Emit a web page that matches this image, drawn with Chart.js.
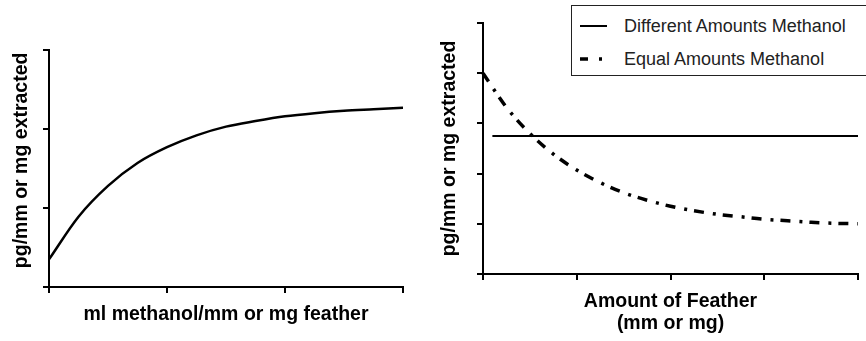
<!DOCTYPE html>
<html>
<head>
<meta charset="utf-8">
<script src="https://cdn.jsdelivr.net/npm/chart.js@4.4.1/dist/chart.umd.min.js"></script>
<style>
  html, body { margin: 0; padding: 0; background: #fff; }
  body { width: 866px; height: 341px; position: relative; overflow: hidden; font-family: "Liberation Sans", Arial, sans-serif; }
  #left-wrap { position: absolute; left: 0; top: 0; width: 430px; height: 341px; }
  #right-wrap { position: absolute; left: 430px; top: 0; width: 436px; height: 341px; }
  #legend {
    position: absolute; left: 571px; top: 5px; width: 310px; height: 69px;
    border: 1px solid #222; background: #fff; box-sizing: content-box;
  }
  .legend-row { position: absolute; left: 8px; height: 22px; display: flex; align-items: center; }
  .legend-row svg { width: 30px; height: 10px; margin-right: 14px; }
  .legend-row span { font-size: 18px; color: #222; white-space: nowrap; }
</style>
</head>
<body>
<div id="left-wrap"><canvas id="left-chart" width="430" height="341"></canvas></div>
<div id="right-wrap"><canvas id="right-chart" width="436" height="341"></canvas></div>
<div id="legend">
  <div class="legend-row" style="top:9px">
    <svg viewBox="0 0 30 10"><line x1="0" y1="5" x2="27" y2="5" stroke="#000" stroke-width="2"/></svg>
    <span>Different Amounts Methanol</span>
  </div>
  <div class="legend-row" style="top:42px">
    <svg viewBox="0 0 30 10"><line x1="0" y1="5" x2="22" y2="5" stroke="#000" stroke-width="3.5" stroke-dasharray="8 11 3 20"/></svg>
    <span>Equal Amounts Methanol</span>
  </div>
</div>
<script>
// left panel: extracted vs ml methanol
const leftX = [0, 0.25, 0.5, 0.75, 1, 1.25, 1.5, 1.75, 2, 2.25, 2.5, 2.75, 3];
const leftY = [0.35, 0.89, 1.28, 1.57, 1.77, 1.92, 2.03, 2.1, 2.16, 2.2, 2.23, 2.25, 2.27];
const leftTitleX = "ml methanol/mm or mg feather";
const yTitle = "pg/mm or mg extracted";

// right panel: extracted vs amount of feather
const diffX = [0.1, 4];
const diffY = [2.75, 2.75];
const equalX = [0, 0.25, 0.5, 0.75, 1, 1.25, 1.5, 1.75, 2, 2.25, 2.5, 2.75, 3, 3.25, 3.5, 3.75, 4];
const equalY = [4.0, 3.32, 2.8, 2.39, 2.07, 1.82, 1.62, 1.47, 1.35, 1.26, 1.19, 1.14, 1.09, 1.06, 1.03, 1.01, 1.0];
const rightTitleX = ["Amount of Feather", "(mm or mg)"];
const seriesLabels = ["Different Amounts Methanol", "Equal Amounts Methanol"];

const titleFont = { family: "Liberation Sans, Arial, sans-serif", size: 19.5, weight: "bold", lineHeight: 1.15 };

function toPoints(xs, ys) {
  return xs.map((x, i) => ({ x, y: ys[i] }));
}

function axisStyle() {
  return {
    border: { display: true, color: "#000", width: 2 },
    grid: { display: true, drawOnChartArea: false, drawTicks: true, tickLength: 6, color: "#000", lineWidth: 2 },
    ticks: { display: false, stepSize: 1 },
  };
}

function makeChart(canvas, cfg) {
  const xAxis = axisStyle();
  const yAxis = axisStyle();
  return new Chart(canvas, {
    type: "line",
    data: { datasets: cfg.datasets },
    options: {
      responsive: false,
      animation: false,
      events: [],
      layout: { padding: { top: cfg.top, right: cfg.right, left: 0, bottom: 0 } },
      plugins: { legend: { display: false }, tooltip: { enabled: false } },
      scales: {
        x: {
          ...xAxis,
          type: "linear",
          min: 0,
          max: cfg.xMax,
          title: { display: true, text: cfg.xTitle, color: "#000", font: titleFont, padding: { top: 0, bottom: cfg.xTitlePad } },
          afterFit: (scale) => { scale.height = cfg.xHeight; },
        },
        y: {
          ...yAxis,
          min: 0,
          max: cfg.yMax,
          title: { display: true, text: cfg.yTitle, color: "#000", font: titleFont, padding: { top: cfg.yTitlePad, bottom: 0 } },
          afterFit: (scale) => { scale.width = cfg.yWidth; },
        },
      },
    },
  });
}

makeChart(document.getElementById("left-chart"), {
  xMax: 3, yMax: 3,
  top: 50, right: 27,
  xHeight: 54, yWidth: 49,
  xTitle: leftTitleX, xTitlePad: 15, yTitlePad: 10,
  // title sits a little above centre in the original
  yTitle: "   " + yTitle,
  datasets: [{
    data: toPoints(leftX, leftY),
    borderColor: "#000",
    borderWidth: 2.5,
    pointRadius: 0,
    cubicInterpolationMode: "monotone",
    fill: false,
  }],
});

makeChart(document.getElementById("right-chart"), {
  xMax: 4, yMax: 5,
  top: 23, right: 8,
  xHeight: 67, yWidth: 53,
  xTitle: rightTitleX, xTitlePad: 6, yTitlePad: 8.8,
  yTitle: yTitle,
  datasets: [
    {
      label: seriesLabels[0],
      data: toPoints(diffX, diffY),
      borderColor: "#000",
      borderWidth: 2,
      pointRadius: 0,
      fill: false,
    },
    {
      label: seriesLabels[1],
      data: toPoints(equalX, equalY),
      borderColor: "#000",
      borderWidth: 3.5,
      borderDash: [10, 9, 3, 7],
      pointRadius: 0,
      cubicInterpolationMode: "monotone",
      fill: false,
      clip: 4,
    },
  ],
});
</script>
</body>
</html>
